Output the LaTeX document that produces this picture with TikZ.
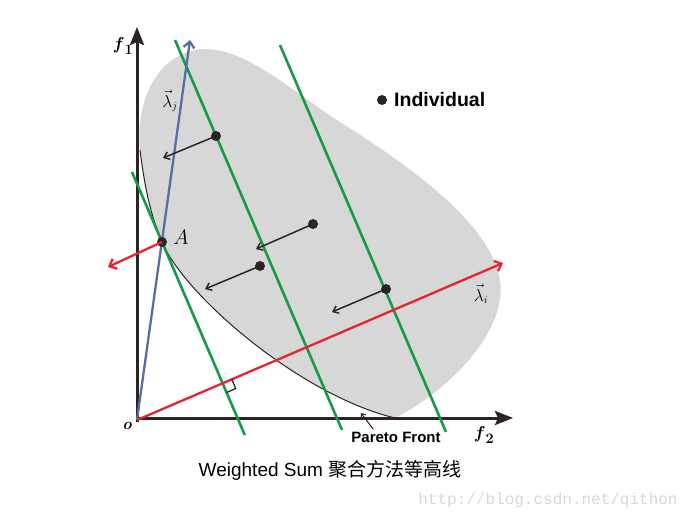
\documentclass[tikz,border=0pt]{standalone}
\usepackage{amsmath}
\usepackage{fontspec}
\newfontfamily\arialf{Liberation Sans}
\newfontfamily\cjk{Noto Sans CJK SC}
\newfontfamily\monof{Liberation Mono}
\usetikzlibrary{arrows.meta,calc}
\definecolor{blobgray}{RGB}{215,215,215}
\definecolor{lgreen}{RGB}{20,155,70}
\definecolor{lred}{RGB}{232,35,45}
\definecolor{lblue}{RGB}{85,110,165}
\definecolor{axiscol}{RGB}{45,35,35}
\definecolor{wmark}{RGB}{215,215,215}
\tikzset{
  axisline/.style={draw=axiscol,line width=3pt,-{Stealth[length=18pt,width=14pt,inset=3pt]}},
  greenline/.style={draw=lgreen,line width=2.6pt},
  redarrow/.style={draw=lred,line width=2.3pt,-{Straight Barb[length=6pt,width=11pt]}},
  bluearrow/.style={draw=lblue,line width=2.3pt,-{Straight Barb[length=6pt,width=11pt]}},
  movearrow/.style={draw=axiscol,line width=1.5pt,-{Straight Barb[length=5pt,width=8pt]}},
  indiv/.style={circle,fill=black!85,inner sep=0pt,minimum size=10pt},
  front/.style={draw=axiscol,line width=1pt}
}
\begin{document}
\begin{tikzpicture}[x=1pt,y=-1pt]
\useasboundingbox (0,0) rectangle (692,519);
% key coordinates
\coordinate (O) at (137,420);
\coordinate (A) at (162,242);
\coordinate (Rt) at (503,263);
% blob
\fill[blobgray] (395,418) .. controls (300,395) and (185,296) .. (A)
  .. controls (151.3,217) and (145,190) .. (140,150)
  .. controls (136,110) and (150,60) .. (195,50)
  .. controls (240,42) and (290,90) .. (340,122)
  .. controls (400,160) and (490,220) .. (500,280)
  .. controls (508,330) and (450,390) .. (395,418) -- cycle;
% axes
\coordinate (f1tip) at (137,27);
\coordinate (f2tip) at (513,418);
\draw[axisline] (137,421.5) -- (f1tip);
\draw[axisline] (135.5,418) -- (f2tip);
% pareto front
\draw[front] (140,150) .. controls (145,190) and (151.3,217) .. (A)
  .. controls (185,296) and (300,395) .. (395,418);
% green contour lines
\coordinate (g1a) at (132,172); \coordinate (g1b) at (244.8,435);
\coordinate (g2a) at (175,40);  \coordinate (g2b) at (342,430);
\coordinate (g3a) at (280,45);  \coordinate (g3b) at (446,432);
\draw[greenline] (g1a) -- (g1b);
\draw[greenline] (g2a) -- (g2b);
\draw[greenline] (g3a) -- (g3b);
% blue weight vector
\coordinate (Bt) at (190,40);
\draw[bluearrow] (O) -- (Bt);
% red weight vector
\draw[redarrow] (O) -- (Rt);
% right angle mark
\coordinate (F) at ($(O)!(A)!(Rt)$);
\coordinate (Fa) at ($(F)!10pt!(Rt)$);
\coordinate (Fb) at ($(F)!10pt!(g1b)$);
\coordinate (Fc) at ($(Fa)+(Fb)-(F)$);
\draw[axiscol,line width=1.3pt] (Fa) -- (Fc) -- (Fb);
% individuals
\node[indiv] (A1) at (A) {};
\node[indiv] (p1) at (216,136) {};
\node[indiv] (p2) at (313,224) {};
\node[indiv] (p3) at (260,266) {};
\node[indiv] (p4) at (386,289) {};
\coordinate (aA) at (108,267);
\coordinate (a1) at (163,158);
\coordinate (a2) at (256,249);
\coordinate (a3) at (205,289);
\coordinate (a4) at (332,312);
\draw[redarrow] (A1.center) -- (aA);
\draw[movearrow] (p1.center) -- (a1);
\draw[movearrow] (p2.center) -- (a2);
\draw[movearrow] (p3.center) -- (a3);
\draw[movearrow] (p4.center) -- (a4);
% labels
\node (lf1) at (123,46) {\fontsize{19}{19}\selectfont$\boldsymbol{f}_{\boldsymbol{1}}$};
\node (lf2) at (484,435) {\fontsize{19}{19}\selectfont$\boldsymbol{f}_{\boldsymbol{2}}$};
\node (lo) at (127,426) {\fontsize{16}{16}\selectfont\bfseries\itshape o};
\node (lA) at (181,237) {\fontsize{21}{21}\selectfont$A$};
\node[inner sep=0pt] (llj) at (170,101) {\fontsize{16}{16}\selectfont$\vec{\lambda}_j$};
\node[inner sep=0pt] (lli) at (481,294) {\fontsize{16}{16}\selectfont$\vec{\lambda}_i$};
\node[indiv] (legdot) at (382,100) {};
\node[anchor=west,inner sep=0pt] (legtxt) at (394,100) {\fontsize{19.5}{19.5}\selectfont\arialf\bfseries Individual};
\node[inner sep=0pt] (pf) at (396,437) {\fontsize{15}{15}\selectfont\arialf\bfseries Pareto Front};
\coordinate (pfpt) at (361,413);
\draw[draw=axiscol,line width=1pt,-{Straight Barb[length=3.5pt,width=6pt]}] (373,429) -- (pfpt);
\node (cap) at (330,470) {\fontsize{19}{19}\selectfont\arialf Weighted Sum {\cjk 聚合方法等高线}};
\node[text=wmark] (wm) at (548,500) {\fontsize{16}{16}\selectfont\monof http://blog.csdn.net/qithon};
\end{tikzpicture}
\end{document}
